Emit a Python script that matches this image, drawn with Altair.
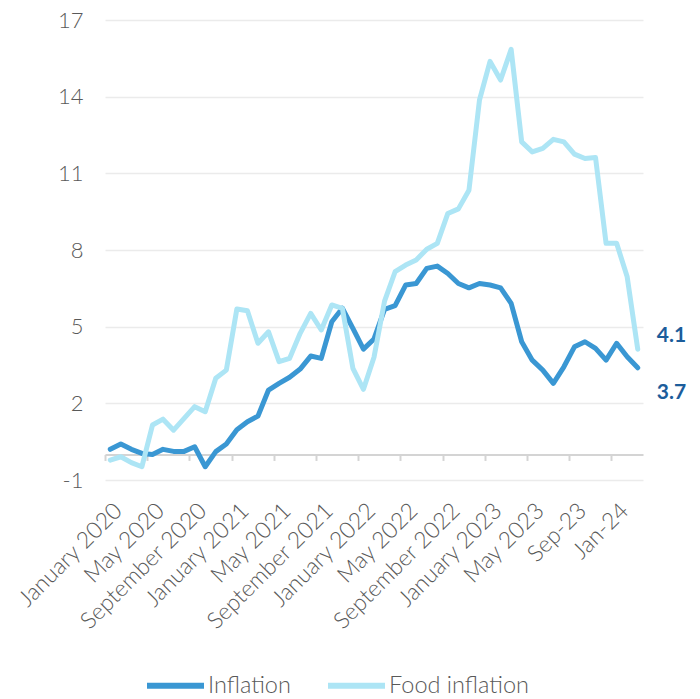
import altair as alt
import pandas as pd

# Monthly observations: January 2020 (index 0) .. March 2024 (index 50)
month_index = list(range(51))

inflation = [
    0.20, 0.41, 0.20, 0.04, 0.00, 0.20, 0.12, 0.12, 0.30, -0.48,
    0.11, 0.41, 0.97, 1.28, 1.50, 2.52, 2.78, 3.02, 3.34, 3.85,
    3.76, 5.19, 5.72, 4.93, 4.12, 4.52, 5.68, 5.82, 6.63, 6.69,
    7.28, 7.37, 7.08, 6.69, 6.52, 6.69, 6.63, 6.52, 5.91, 4.41,
    3.69, 3.30, 2.78, 3.43, 4.21, 4.41, 4.15, 3.69, 4.35, 3.82,
    3.39,
]

food_inflation = [
    -0.22, -0.09, -0.32, -0.48, 1.15, 1.38, 0.95, 1.41, 1.87, 1.67,
    2.98, 3.30, 5.69, 5.62, 4.35, 4.80, 3.63, 3.76, 4.74, 5.52,
    4.87, 5.85, 5.72, 3.37, 2.55, 3.80, 6.00, 7.15, 7.41, 7.61,
    8.03, 8.26, 9.43, 9.61, 10.34, 13.87, 15.38, 14.65, 15.85, 12.23,
    11.84, 11.98, 12.33, 12.23, 11.75, 11.58, 11.62, 8.26, 8.26, 6.95,
    4.12,
]

tick_label_positions = [0, 4, 8, 12, 16, 20, 24, 28, 32, 36, 40, 44, 48]
tick_labels = [
    "January 2020", "May 2020", "September 2020", "January 2021", "May 2021",
    "September 2021", "January 2022", "May 2022", "September 2022",
    "January 2023", "May 2023", "Sep-23", "Jan-24",
]
tick_mark_positions = [p - 0.5 for p in tick_label_positions]

y_ticks = [-1, 2, 5, 8, 11, 14, 17]
end_labels = ["4.1", "3.7"]  # Food inflation, Inflation
series_names = ["Inflation", "Food inflation"]
series_colors = ["#3a97d3", "#ade5f5"]

df = pd.DataFrame({"t": month_index, "infl": inflation, "food": food_inflation})
last = pd.DataFrame({
    "t": [month_index[-1]],
    "infl": [inflation[-1]],
    "food": [food_inflation[-1]],
    "lab_food": [end_labels[0]],
    "lab_infl": [end_labels[1]],
})

W, H = 538, 460
FONT = "Lato"
GRAY = "#595959"

label_expr = "[" + ",".join("'" + s + "'" for s in tick_labels) + "][round(datum.value/4)]"

x_scale = alt.Scale(domain=[-0.5, 50.5], nice=False, zero=False)
y_scale = alt.Scale(domain=[-1, 17], nice=False, zero=False)

y_axis = alt.Axis(
    values=y_ticks, domain=False, ticks=False, title=None,
    labelExpr="'' + datum.value",
    labelFontSize=22, labelColor=GRAY, labelFont=FONT, labelFontWeight=300,
    labelPadding=22, gridColor="#ebebeb", gridWidth=1.5,
)

axis_labels = alt.Axis(
    orient="bottom", values=tick_label_positions, labelExpr=label_expr,
    labelAngle=-45, labelAlign="right", labelBaseline="top",
    labelFontSize=23, labelColor=GRAY, labelFont=FONT, labelFontWeight=300,
    labelPadding=19, labelOverlap=False, labelFlush=False, labelBound=False,
    ticks=False, domain=False, grid=False, title=None,
)

zero_offset = -H * (0 - (-1)) / (17 - (-1))
axis_ticks = alt.Axis(
    orient="bottom", values=tick_mark_positions, labels=False,
    domain=True, domainColor="#d4d4d4", domainWidth=2,
    ticks=True, tickColor="#d4d4d4", tickWidth=2, tickSize=6,
    grid=False, title=None, offset=zero_offset,
)

color_scale = alt.Scale(domain=series_names, range=series_colors)
legend = alt.Legend(
    orient="none", legendX=39, legendY=634, direction="horizontal", title=None,
    symbolType="stroke", symbolSize=3249, symbolStrokeWidth=6,
    labelFontSize=23.5, labelColor=GRAY, labelFont=FONT, labelFontWeight=300,
    labelOffset=1, columnPadding=25,
)
color_enc = alt.Color("series:N", scale=color_scale, legend=legend)

infl_line = alt.Chart(df).transform_calculate(series="'Inflation'").mark_line(
    strokeWidth=5, strokeCap="round", strokeJoin="round"
).encode(
    x=alt.X("t:Q", scale=x_scale, axis=axis_labels),
    y=alt.Y("infl:Q", scale=y_scale, axis=y_axis),
    color=color_enc,
)

food_line = alt.Chart(df).transform_calculate(series="'Food inflation'").mark_line(
    strokeWidth=5, strokeCap="round", strokeJoin="round"
).encode(
    x=alt.X("t:Q", scale=x_scale, axis=axis_ticks),
    y=alt.Y("food:Q", scale=y_scale, axis=y_axis),
    color=color_enc,
)

food_text = alt.Chart(last).mark_text(
    align="left", baseline="middle", xOffset=19, yOffset=-13, fontSize=21,
    fontWeight="bold", color="#1c5d9b", font=FONT,
).encode(
    x=alt.X("t:Q", scale=x_scale, axis=None),
    y=alt.Y("food:Q", scale=y_scale, axis=y_axis),
    text="lab_food:N",
)

infl_text = alt.Chart(last).mark_text(
    align="left", baseline="middle", xOffset=19, yOffset=25, fontSize=21,
    fontWeight="bold", color="#1c5d9b", font=FONT,
).encode(
    x=alt.X("t:Q", scale=x_scale, axis=None),
    y=alt.Y("infl:Q", scale=y_scale, axis=y_axis),
    text="lab_infl:N",
)

chart = alt.layer(infl_line, food_line, food_text, infl_text).resolve_axis(
    x="independent"
).properties(
    width=W, height=H,
    padding={"left": 105, "top": 20, "right": 57, "bottom": 219},
    autosize=alt.AutoSizeParams(type="none"),
    background="white",
).configure(font=FONT, view=alt.ViewConfig(stroke=None))

chart.save("out.html", embed_options={"renderer": "svg", "actions": False})
